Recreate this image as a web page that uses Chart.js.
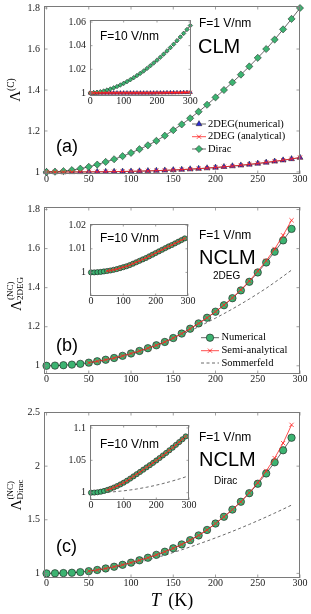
<!DOCTYPE html>
<html><head><meta charset="utf-8">
<script src="https://cdn.jsdelivr.net/npm/chart.js@4.4.1/dist/chart.umd.min.js"></script>
<style>
html,body{margin:0;padding:0;background:#fff;}
#wrap{position:relative;width:311px;height:614px;overflow:hidden;background:#fff;}
canvas{position:absolute;}
.t{position:absolute;white-space:nowrap;transform:translateY(-50%);line-height:1;color:#000;font-family:"Liberation Sans",Arial,sans-serif;}
.rot{position:absolute;white-space:nowrap;transform:translate(-50%,-50%) rotate(-90deg);line-height:1;color:#000;font-family:"Liberation Serif",serif;font-size:15px;}
.rot sup{font-size:9.5px;vertical-align:0.55em;}
.ss{display:inline-block;vertical-align:-0.22em;font-size:9px;line-height:1.1;text-align:left;}
.ss span{display:block;}
.xt{position:absolute;white-space:nowrap;transform:translate(-50%,-50%);line-height:1;color:#000;font-family:"Liberation Serif",serif;font-size:18px;word-spacing:3px;}
</style></head><body><div id="wrap">
<canvas id="ca"></canvas><canvas id="cb"></canvas><canvas id="cc"></canvas>
<canvas id="ia"></canvas><canvas id="ib"></canvas><canvas id="ic"></canvas>
<div class="t" style="left:199px;top:23px;font-size:12px;">F=1 V/nm</div>
<div class="t" style="left:198px;top:45.5px;font-size:20px;">CLM</div>
<div class="t" style="left:100px;top:36px;font-size:12px;">F=10 V/nm</div>
<div class="t" style="left:56px;top:145.5px;font-size:18px;">(a)</div>
<div class="t" style="left:199px;top:234.5px;font-size:12px;">F=1 V/nm</div>
<div class="t" style="left:100px;top:237.5px;font-size:12px;">F=10 V/nm</div>
<div class="t" style="left:199px;top:256.5px;font-size:20px;">NCLM</div>
<div class="t" style="left:213px;top:275.5px;font-size:10px;">2DEG</div>
<div class="t" style="left:56px;top:345px;font-size:18px;">(b)</div>
<div class="t" style="left:199px;top:436.5px;font-size:12px;">F=1 V/nm</div>
<div class="t" style="left:100px;top:443.5px;font-size:12px;">F=10 V/nm</div>
<div class="t" style="left:199px;top:459px;font-size:20px;">NCLM</div>
<div class="t" style="left:214px;top:480.5px;font-size:10px;">Dirac</div>
<div class="t" style="left:56px;top:545.5px;font-size:18px;">(c)</div>
<div class="rot" style="left:15px;top:90px;">Λ<sup>(C)</sup></div>
<div class="rot" style="left:16px;top:294px;">Λ<span class="ss"><span>(NC)</span><span>2DEG</span></span></div>
<div class="rot" style="left:16px;top:495px;">Λ<span class="ss"><span>(NC)</span><span>Dirac</span></span></div>
<div class="xt" style="left:172px;top:600px;"><i>T</i> (K)</div>
</div>
<script>
// ---------------- data ----------------
const T_300 = [0,10,20,30,40,50,60,70,80,90,100,110,120,130,140,150,160,170,180,190,200,210,220,230,240,250,260,270,280,290,300];
const T_290 = [0,10,20,30,40,50,60,70,80,90,100,110,120,130,140,150,160,170,180,190,200,210,220,230,240,250,260,270,280,290];
const T_SEMI = [50,60,70,80,90,100,110,120,130,140,150,160,170,180,190,200,210,220,230,240,250,260,270,280,290];

const X_TICKS = [0,50,100,150,200,250,300];
const INSET_X_TICKS = [0,100,200,300];
const A_Y_TICKS = [1,1.2,1.4,1.6,1.8];
const B_Y_TICKS = [1,1.2,1.4,1.6,1.8];
const C_Y_TICKS = [1,1.5,2,2.5];
const AI_Y_TICKS = [1,1.02,1.04,1.06];
const BI_Y_TICKS = [1,1.01,1.02];
const CI_Y_TICKS = [1,1.05,1.1];

// panel (a), F = 1 V/nm
const A_DIRAC = [1.000,1.001,1.004,1.009,1.016,1.025,1.036,1.049,1.062,1.077,1.093,1.111,1.130,1.152,1.177,1.204,1.232,1.262,1.294,1.328,1.364,1.400,1.437,1.475,1.515,1.557,1.600,1.646,1.696,1.747,1.800];
const A_2DEG_NUM = [1.000,1.000,1.000,1.0001,1.0002,1.0004,1.0007,1.0011,1.0016,1.0022,1.003,1.004,1.0051,1.0064,1.0079,1.0096,1.0115,1.0137,1.0161,1.0188,1.0217,1.025,1.0286,1.0325,1.0367,1.0413,1.0462,1.0515,1.0572,1.0634,1.070];
const A_2DEG_ANA = [1.000,1.000,1.000,1.0001,1.0002,1.0004,1.0007,1.0011,1.0016,1.0022,1.003,1.004,1.0051,1.0064,1.0079,1.0096,1.0115,1.0137,1.0161,1.0188,1.0218,1.0251,1.0287,1.0327,1.0369,1.0415,1.0465,1.0518,1.0576,1.0638,1.0705];
// panel (a) inset, F = 10 V/nm
const AI_DIRAC = [1.0000,1.0001,1.0005,1.0010,1.0016,1.0024,1.0033,1.0043,1.0054,1.0067,1.0081,1.0096,1.0112,1.0129,1.0147,1.0166,1.0186,1.0207,1.0230,1.0253,1.0277,1.0302,1.0328,1.0355,1.0383,1.0412,1.0442,1.0473,1.0504,1.0537,1.0570];
const AI_2DEG_NUM = [1.0000,1.0000,1.0000,1.0000,1.0000,1.0000,1.0000,1.0000,1.0000,1.0000,1.0000,1.0000,1.0000,1.0000,1.0000,1.0000,1.0000,1.0000,1.0000,1.0000,1.0001,1.0001,1.0001,1.0002,1.0002,1.0002,1.0003,1.0003,1.0004,1.0004,1.0005];
const AI_2DEG_ANA = [1.0000,1.0000,1.0000,1.0000,1.0000,1.0000,1.0000,1.0000,1.0000,1.0000,1.0000,1.0000,1.0000,1.0000,1.0000,1.0000,1.0000,1.0000,1.0000,1.0000,1.0001,1.0001,1.0001,1.0002,1.0002,1.0002,1.0003,1.0003,1.0004,1.0004,1.0005];

// panel (b), F = 1 V/nm
const B_NUM = [1.000,1.001,1.003,1.006,1.010,1.016,1.023,1.031,1.040,1.051,1.063,1.076,1.090,1.105,1.122,1.142,1.165,1.190,1.217,1.246,1.277,1.310,1.346,1.386,1.430,1.478,1.529,1.584,1.642,1.701];
const B_SEMI = [1.016,1.023,1.031,1.040,1.051,1.063,1.076,1.090,1.105,1.122,1.142,1.165,1.190,1.217,1.246,1.277,1.311,1.348,1.389,1.434,1.484,1.538,1.598,1.668,1.745];
const B_SOMM = [1.000,1.001,1.002,1.005,1.009,1.015,1.021,1.029,1.037,1.047,1.059,1.072,1.087,1.103,1.121,1.141,1.159,1.179,1.200,1.222,1.244,1.267,1.291,1.316,1.342,1.369,1.397,1.427,1.458,1.490];
// panel (b) inset, F = 10 V/nm
const BI_NUM = [1.0000,1.0000,1.0001,1.0002,1.0004,1.0006,1.0008,1.0011,1.0014,1.0018,1.0022,1.0026,1.0031,1.0037,1.0043,1.0049,1.0055,1.0061,1.0068,1.0075,1.0082,1.0089,1.0096,1.0103,1.0110,1.0116,1.0123,1.0130,1.0137,1.0144];
const BI_SEMI = [1.0006,1.0008,1.0011,1.0014,1.0018,1.0022,1.0026,1.0031,1.0037,1.0043,1.0049,1.0055,1.0061,1.0068,1.0075,1.0082,1.0089,1.0096,1.0103,1.0110,1.0116,1.0123,1.0130,1.0137,1.0144];

// panel (c), F = 1 V/nm
const C_NUM = [1.000,1.001,1.003,1.006,1.012,1.021,1.032,1.046,1.062,1.080,1.100,1.122,1.146,1.173,1.202,1.234,1.270,1.310,1.354,1.405,1.465,1.528,1.595,1.668,1.748,1.836,1.932,2.036,2.148,2.265];
const C_SEMI = [1.021,1.032,1.046,1.062,1.080,1.100,1.122,1.146,1.173,1.202,1.234,1.270,1.310,1.354,1.405,1.465,1.528,1.595,1.668,1.752,1.845,1.955,2.075,2.215,2.385];
const C_SOMM = [1.000,1.001,1.003,1.007,1.013,1.021,1.030,1.042,1.055,1.070,1.087,1.105,1.125,1.147,1.170,1.195,1.220,1.247,1.274,1.302,1.331,1.361,1.392,1.424,1.457,1.491,1.526,1.562,1.599,1.637];
// panel (c) inset, F = 10 V/nm
const CI_NUM = [1.0000,1.0002,1.0007,1.0015,1.0027,1.0042,1.0060,1.0080,1.0103,1.0128,1.0155,1.0185,1.0218,1.0252,1.0286,1.0321,1.0356,1.0391,1.0425,1.0461,1.0498,1.0536,1.0575,1.0614,1.0655,1.0696,1.0739,1.0782,1.0826,1.0870];
const CI_SEMI = [1.0042,1.0060,1.0080,1.0103,1.0128,1.0155,1.0185,1.0218,1.0252,1.0286,1.0321,1.0356,1.0391,1.0425,1.0461,1.0498,1.0536,1.0575,1.0614,1.0655,1.0696,1.0739,1.0782,1.0826,1.0870];
const CI_SOMM = [1.0000,1.0000,1.0001,1.0003,1.0005,1.0007,1.0010,1.0014,1.0019,1.0024,1.0029,1.0035,1.0042,1.0049,1.0057,1.0066,1.0075,1.0084,1.0094,1.0105,1.0117,1.0128,1.0141,1.0154,1.0168,1.0182,1.0197,1.0212,1.0228,1.0245];

// ---------------- styles ----------------
const GREEN = '#3cb371', BLUE = '#2b2bd6', RED = '#ff2222', EDGE = '#1a1a1a';
Chart.defaults.font.family = '"Liberation Serif", "Times New Roman", serif';
Chart.defaults.font.size = 10;
Chart.defaults.color = '#1a1a1a';

function pts(T, V){ return T.map((t,i)=>({x:t, y:V[i]})); }
function base(extra){ return Object.assign({fill:false, tension:0, clip:false}, extra); }
function dirac(T,V,r,label){ return base({label, data:pts(T,V), borderColor:'#000', borderWidth:0.6, pointStyle:'rectRot', pointRadius:r, pointBackgroundColor:GREEN, pointBorderColor:EDGE, pointBorderWidth:0.5, order:1}); }
function tri(T,V,r,label){ return base({label, data:pts(T,V), borderColor:'#000', borderWidth:0.6, pointStyle:'triangle', pointRadius:r, pointBackgroundColor:BLUE, pointBorderColor:EDGE, pointBorderWidth:0.5, order:3}); }
function cross(T,V,r,label,lw){ return base({label, data:pts(T,V), borderColor:RED, borderWidth:lw||0.8, pointStyle:'crossRot', pointRadius:r, pointBackgroundColor:RED, pointBorderColor:RED, pointBorderWidth:0.8, order:1}); }
function circ(T,V,r,label){ return base({label, data:pts(T,V), borderColor:'#000', borderWidth:0.6, pointStyle:'circle', pointRadius:r, pointBackgroundColor:GREEN, pointBorderColor:EDGE, pointBorderWidth:0.6, order:2}); }
function somm(T,V,label){ return base({label, data:pts(T,V), borderColor:'#444', borderWidth:0.8, borderDash:[3,2.5], pointRadius:0, order:3}); }

// ---------------- plugins ----------------
function drawMarker(ctx, style, r, x, y, fill, stroke, bw){
  ctx.save(); ctx.lineWidth = bw; ctx.fillStyle = fill; ctx.strokeStyle = stroke;
  ctx.beginPath();
  if (style === 'circle') { ctx.arc(x, y, r, 0, Math.PI*2); ctx.fill(); ctx.stroke(); }
  else if (style === 'rectRot') { ctx.moveTo(x, y-r); ctx.lineTo(x+r, y); ctx.lineTo(x, y+r); ctx.lineTo(x-r, y); ctx.closePath(); ctx.fill(); ctx.stroke(); }
  else if (style === 'triangle') {
    let a = 0; ctx.moveTo(x+Math.sin(a)*r, y-Math.cos(a)*r);
    a += 2*Math.PI/3; ctx.lineTo(x+Math.sin(a)*r, y-Math.cos(a)*r);
    a += 2*Math.PI/3; ctx.lineTo(x+Math.sin(a)*r, y-Math.cos(a)*r);
    ctx.closePath(); ctx.fill(); ctx.stroke();
  } else if (style === 'crossRot') {
    const o = Math.SQRT1_2*r;
    ctx.moveTo(x-o, y-o); ctx.lineTo(x+o, y+o); ctx.moveTo(x-o, y+o); ctx.lineTo(x+o, y-o); ctx.stroke();
  }
  ctx.restore();
}

const framePlugin = {
  id: 'frame',
  beforeDraw(chart, args, opts){
    if (!opts.bg) return;
    const a = chart.chartArea, ctx = chart.ctx;
    ctx.save(); ctx.fillStyle = '#fff'; ctx.fillRect(a.left, a.top, a.right-a.left, a.bottom-a.top); ctx.restore();
  },
  afterDatasetsDraw(chart, args, opts){
    const a = chart.chartArea, ctx = chart.ctx, xs = chart.scales.x, ys = chart.scales.y;
    const L = opts.tick || 3;
    ctx.save();
    ctx.strokeStyle = '#8a8a8a'; ctx.lineWidth = 0.8;
    ctx.beginPath();
    xs.ticks.forEach(t => { const p = xs.getPixelForValue(t.value);
      ctx.moveTo(p, a.bottom); ctx.lineTo(p, a.bottom-L); ctx.moveTo(p, a.top); ctx.lineTo(p, a.top+L); });
    ys.ticks.forEach(t => { const p = ys.getPixelForValue(t.value);
      ctx.moveTo(a.left, p); ctx.lineTo(a.left+L, p); ctx.moveTo(a.right, p); ctx.lineTo(a.right-L, p); });
    ctx.stroke();
    ctx.strokeStyle = '#7a7a7a'; ctx.lineWidth = 1;
    ctx.strokeRect(a.left+0.5, a.top+0.5, a.right-a.left-1, a.bottom-a.top-1);
    ctx.restore();
  }
};

const legendPlugin = {
  id: 'mylegend',
  afterDraw(chart, args, opts){
    if (!opts || !opts.items) return;
    const ctx = chart.ctx;
    opts.items.forEach((idx, k) => {
      const ds = chart.data.datasets[idx], y = opts.ys[k];
      ctx.save();
      ctx.strokeStyle = ds.borderColor; ctx.lineWidth = ds.borderWidth;
      if (ds.borderDash) ctx.setLineDash(ds.borderDash);
      ctx.beginPath(); ctx.moveTo(opts.x0, y); ctx.lineTo(opts.x1, y); ctx.stroke();
      ctx.restore();
      if (ds.pointRadius > 0) drawMarker(ctx, ds.pointStyle, ds.pointRadius, (opts.x0+opts.x1)/2, y, ds.pointBackgroundColor, ds.pointBorderColor, ds.pointBorderWidth);
      ctx.save(); ctx.fillStyle = '#000'; ctx.font = '10.5px "Liberation Serif", serif'; ctx.textBaseline = 'middle'; ctx.textAlign = 'left';
      ctx.fillText(ds.label, opts.tx, y); ctx.restore();
    });
  }
};
Chart.register(framePlugin, legendPlugin);

function makeChart(c){
  const cv = document.getElementById(c.id), B = c.box, F = c.frame;
  cv.width = B.w; cv.height = B.h;
  cv.style.left = B.x+'px'; cv.style.top = B.y+'px'; cv.style.width = B.w+'px'; cv.style.height = B.h+'px';
  return new Chart(cv, {
    type: 'line',
    data: {datasets: c.datasets},
    options: {
      responsive: false, animation: false, devicePixelRatio: 1, events: [],
      layout: {padding: {left: 0, top: F.t-B.y, right: B.x+B.w-F.r, bottom: 0}},
      plugins: {legend: {display: false}, tooltip: {enabled: false},
        frame: {tick: c.tick, bg: !!c.bg},
        mylegend: c.legend || false},
      scales: {
        x: {type: 'linear', min: c.xr[0], max: c.xr[1],
          afterBuildTicks: s => { s.ticks = c.xt.map(v => ({value: v})); },
          afterFit: s => { s.height = B.y+B.h-F.b; s.paddingLeft = 0; s.paddingRight = 0; },
          grid: {display: false, drawTicks: false}, border: {display: false},
          ticks: {padding: c.xpad, maxRotation: 0, minRotation: 0, autoSkip: false, font: {size: c.fs, lineHeight: 1}, callback: v => String(v)}},
        y: {type: 'linear', min: c.yr[0], max: c.yr[1],
          afterBuildTicks: s => { s.ticks = c.yt.map(v => ({value: v})); },
          afterFit: s => { s.width = F.l-B.x; s.paddingTop = 0; s.paddingBottom = 0; },
          grid: {display: false, drawTicks: false}, border: {display: false},
          ticks: {padding: 4, autoSkip: false, font: {size: c.fs, lineHeight: 1}, callback: v => String(v)}}
      }
    }
  });
}

// main panels
makeChart({id:'ca', box:{x:0,y:0,w:311,h:190}, frame:{l:44,t:6,r:300,b:174}, xr:[-3,300], yr:[0.99,1.81], xt:X_TICKS, yt:A_Y_TICKS, fs:10, xpad:0, tick:3.5,
  datasets:[tri(T_300,A_2DEG_NUM,3.4,'2DEG(numerical)'), cross(T_300,A_2DEG_ANA,3,'2DEG (analytical)'), dirac(T_300,A_DIRAC,3.6,'Dirac')],
  legend:{items:[0,1,2], ys:[124,136.7,149], x0:192, x1:206, tx:208}});
makeChart({id:'cb', box:{x:0,y:195,w:311,h:195}, frame:{l:44,t:207,r:300,b:374}, xr:[-3,300], yr:[0.958,1.813], xt:X_TICKS, yt:B_Y_TICKS, fs:10, xpad:0, tick:3.5,
  datasets:[circ(T_290,B_NUM,3.7,'Numerical'), cross(T_SEMI,B_SEMI,3,'Semi-analytical'), somm(T_290,B_SOMM,'Sommerfeld')],
  legend:{items:[0,1,2], ys:[142.7,155.7,168], x0:201, x1:219, tx:221.5}});
makeChart({id:'cc', box:{x:0,y:400,w:311,h:194}, frame:{l:44,t:412,r:300,b:578}, xr:[-3,300], yr:[0.957,2.505], xt:X_TICKS, yt:C_Y_TICKS, fs:10, xpad:0, tick:3.5,
  datasets:[circ(T_290,C_NUM,3.7,'Numerical'), cross(T_SEMI,C_SEMI,3,'Semi-analytical'), somm(T_290,C_SOMM,'Sommerfeld')]});

// insets
makeChart({id:'ia', box:{x:55,y:12,w:150,h:98}, frame:{l:90,t:20,r:191,b:96}, xr:[-1,302], yr:[0.9974,1.0617], xt:INSET_X_TICKS, yt:AI_Y_TICKS, fs:10, xpad:0, tick:2.5, bg:true,
  datasets:[tri(T_300,AI_2DEG_NUM,2.4,'2DEG(numerical)'), cross(T_300,AI_2DEG_ANA,2.2,'2DEG (analytical)',1.2), dirac(T_300,AI_DIRAC,2.3,'Dirac')]});
makeChart({id:'ib', box:{x:55,y:214,w:148,h:96}, frame:{l:90,t:224,r:188,b:296}, xr:[-3,300], yr:[0.99,1.0205], xt:INSET_X_TICKS, yt:BI_Y_TICKS, fs:10, xpad:0, tick:2.5, bg:true,
  datasets:[circ(T_290,BI_NUM,2.6,'Numerical'), cross(T_SEMI,BI_SEMI,2.2,'Semi-analytical')]});
makeChart({id:'ic', box:{x:55,y:415,w:148,h:99}, frame:{l:90,t:425,r:189,b:500}, xr:[-3,300], yr:[0.9887,1.1046], xt:INSET_X_TICKS, yt:CI_Y_TICKS, fs:10, xpad:0, tick:2.5, bg:true,
  datasets:[circ(T_290,CI_NUM,2.6,'Numerical'), cross(T_SEMI,CI_SEMI,2.2,'Semi-analytical'), somm(T_290,CI_SOMM,'Sommerfeld')]});
</script>
</body></html>
